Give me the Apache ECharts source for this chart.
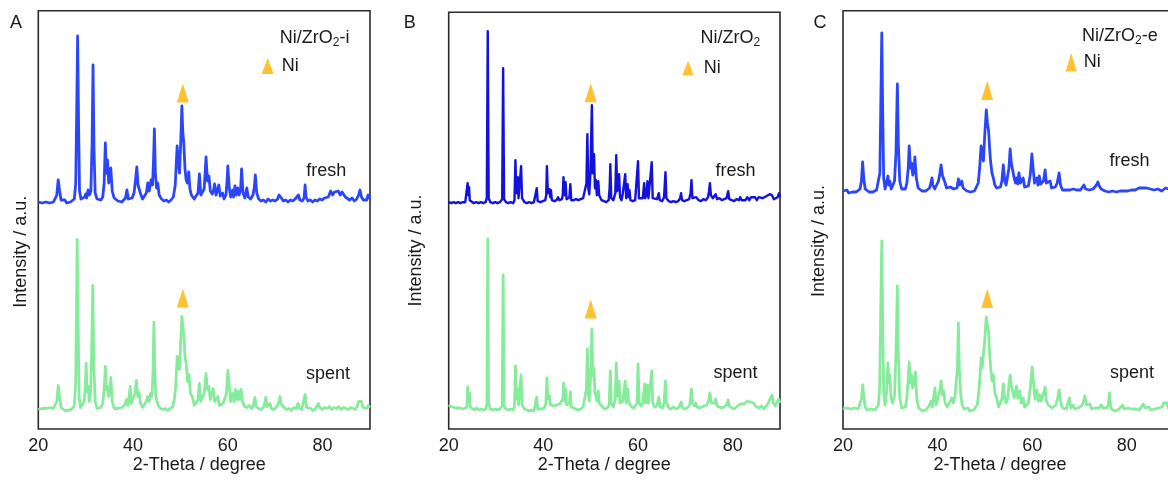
<!DOCTYPE html>
<html>
<head>
<meta charset="utf-8">
<style>
  html, body { margin: 0; padding: 0; background: #fff; overflow: hidden; }
  #main { width: 1180px; height: 481px; }
</style>
<script src="https://cdn.jsdelivr.net/npm/echarts@6/dist/echarts.min.js"></script>
</head>
<body>
<div id="main"></div>
<script>
// XRD patterns, [2-theta (degree), intensity (a.u.)]; each trace starts from its own baseline
const freshA = [[20.0,1],[20.4,3],[20.8,0],[21.2,2],[21.6,1],[22.0,3],[22.4,0],[22.8,2],[23.2,1],[23.6,3],[23.9,8],[24.2,23],[24.5,12],[24.8,3],[25.2,1],[25.6,3],[26.0,0],[26.4,2],[26.8,1],[27.2,2],[27.6,4],[27.9,20],[28.1,90],[28.3,167],[28.5,80],[28.7,12],[29.0,4],[29.4,2],[29.8,6],[30.0,9],[30.2,5],[30.5,13],[30.8,8],[31.1,12],[31.35,60],[31.55,138],[31.75,55],[32.0,10],[32.4,4],[32.8,2],[33.2,3],[33.6,6],[33.9,20],[34.15,60],[34.35,30],[34.6,43],[34.85,20],[35.05,24],[35.3,35],[35.6,12],[36.0,5],[36.4,3],[36.8,2],[37.2,4],[37.6,1],[38.0,3],[38.4,5],[38.7,13],[39.0,4],[39.4,2],[39.8,5],[40.2,10],[40.5,22],[40.8,36],[41.05,18],[41.3,20],[41.6,9],[42.0,4],[42.4,6],[42.8,10],[43.1,20],[43.4,12],[43.8,23],[44.1,18],[44.3,40],[44.5,74],[44.7,30],[44.95,15],[45.2,20],[45.5,8],[46.0,4],[46.5,2],[47.0,3],[47.5,1],[48.0,3],[48.5,6],[48.9,18],[49.3,57],[49.55,40],[49.8,30],[50.05,60],[50.3,97],[50.5,70],[50.7,60],[50.95,35],[51.2,23],[51.45,20],[51.75,31],[52.0,14],[52.3,8],[52.5,10],[52.9,4],[53.3,3],[53.7,10],[54.0,29],[54.3,8],[54.7,6],[55.0,14],[55.2,30],[55.4,46],[55.7,22],[56.0,27],[56.3,12],[56.7,9],[57.0,13],[57.2,19],[57.5,8],[57.8,10],[58.1,18],[58.4,7],[58.7,6],[58.9,10],[59.2,4],[59.6,8],[59.8,20],[60.0,37],[60.3,15],[60.6,6],[61.0,13],[61.2,6],[61.5,17],[61.8,8],[62.1,15],[62.4,8],[62.7,14],[62.9,34],[63.2,10],[63.6,5],[64.0,15],[64.3,6],[64.8,4],[65.3,8],[65.6,16],[65.8,28],[66.1,10],[66.5,4],[67.0,2],[67.5,3],[68.0,1],[68.5,4],[69.0,2],[69.5,3],[70.0,2],[70.5,4],[70.8,8],[71.0,10],[71.3,5],[71.7,2],[72.2,3],[72.7,1],[73.2,3],[73.7,2],[74.2,4],[74.6,5],[74.9,8],[75.2,3],[75.7,2],[76.1,5],[76.3,18],[76.5,6],[76.9,2],[77.4,3],[77.9,1],[78.4,3],[78.9,2],[79.4,4],[79.9,3],[80.4,5],[80.8,7],[81.2,6],[81.7,12],[82.1,8],[82.5,11],[82.9,9],[83.3,12],[83.7,8],[84.1,11],[84.4,12],[84.8,6],[85.2,4],[85.7,3],[86.2,5],[86.7,2],[87.2,4],[87.6,8],[87.9,13],[88.2,6],[88.6,3],[89.0,4],[89.3,3],[89.6,8],[90.0,4]];

const spentA = [[20.0,2],[20.4,0],[20.8,3],[21.2,1],[21.6,3],[22.0,1],[22.4,4],[22.8,2],[23.2,3],[23.6,4],[23.9,10],[24.2,26],[24.5,14],[24.8,4],[25.2,2],[25.6,1],[26.0,3],[26.4,1],[26.8,2],[27.2,3],[27.6,6],[27.9,30],[28.05,100],[28.2,172],[28.4,90],[28.6,15],[28.9,4],[29.3,3],[29.7,10],[29.9,25],[30.1,48],[30.3,20],[30.5,25],[30.75,10],[31.05,20],[31.3,70],[31.5,126],[31.7,50],[32.0,10],[32.4,3],[32.8,2],[33.2,4],[33.6,8],[33.9,22],[34.15,45],[34.35,22],[34.6,25],[34.85,15],[35.05,20],[35.3,34],[35.6,10],[36.0,3],[36.4,1],[36.8,3],[37.2,2],[37.6,4],[38.0,5],[38.3,7],[38.6,12],[38.9,6],[39.2,8],[39.4,25],[39.6,8],[40.0,6],[40.4,18],[40.7,31],[41.0,15],[41.3,18],[41.6,8],[42.0,4],[42.4,5],[42.8,10],[43.1,15],[43.4,10],[43.7,18],[44.0,15],[44.2,40],[44.4,89],[44.6,40],[44.8,15],[45.0,15],[45.3,6],[45.8,3],[46.3,2],[46.8,3],[47.3,1],[47.8,3],[48.3,4],[48.7,12],[49.0,25],[49.3,55],[49.55,45],[49.8,42],[50.05,70],[50.3,95],[50.5,85],[50.7,78],[50.95,55],[51.2,48],[51.5,30],[51.8,37],[52.1,18],[52.5,15],[52.9,6],[53.3,4],[53.7,12],[54.0,28],[54.3,10],[54.7,8],[55.0,18],[55.2,28],[55.4,38],[55.7,22],[56.0,25],[56.3,12],[56.6,10],[56.9,23],[57.2,10],[57.5,8],[57.9,15],[58.2,6],[58.6,5],[59.0,8],[59.4,6],[59.7,18],[60.0,41],[60.3,25],[60.6,10],[61.0,18],[61.3,10],[61.6,22],[61.9,12],[62.2,20],[62.5,12],[62.8,22],[63.1,10],[63.5,5],[64.0,4],[64.5,6],[65.0,3],[65.4,6],[65.7,14],[66.0,5],[66.5,3],[67.0,2],[67.5,4],[67.8,8],[68.0,14],[68.3,5],[68.6,4],[68.9,8],[69.2,3],[69.7,2],[70.2,4],[70.7,8],[71.0,15],[71.3,7],[71.6,9],[71.9,4],[72.4,2],[72.9,3],[73.4,1],[73.9,4],[74.4,3],[74.8,8],[75.1,3],[75.6,2],[76.0,4],[76.3,17],[76.6,4],[77.0,2],[77.5,3],[78.0,1],[78.5,3],[78.9,5],[79.1,8],[79.4,4],[79.9,2],[80.4,4],[80.9,3],[81.4,5],[81.9,2],[82.4,4],[82.9,3],[83.4,5],[83.9,2],[84.4,4],[84.9,3],[85.4,2],[85.9,4],[86.4,3],[86.9,2],[87.3,5],[87.6,10],[87.9,12],[88.2,10],[88.5,4],[88.9,2],[89.3,3],[89.6,6],[90.0,4]];

const freshB = [[20.0,1],[20.5,0],[21.0,1],[21.5,0],[22.0,1],[22.5,0],[23.0,1],[23.5,1],[23.85,3],[24.0,20],[24.15,8],[24.3,16],[24.45,3],[24.8,1],[25.3,0],[25.8,1],[26.3,0],[26.8,1],[27.3,0],[27.8,1],[28.05,5],[28.25,172],[28.45,5],[28.8,1],[29.3,0],[29.8,1],[30.3,0],[30.8,1],[31.3,4],[31.5,135],[31.7,4],[32.1,1],[32.6,0],[33.1,1],[33.6,0],[33.9,3],[34.1,43],[34.3,10],[34.45,8],[34.6,26],[34.75,5],[35.0,3],[35.3,37],[35.5,5],[35.8,6],[36.0,1],[36.5,0],[37.0,1],[37.5,0],[38.0,1],[38.4,2],[38.6,15],[38.8,2],[39.1,3],[39.4,1],[39.9,2],[40.4,3],[40.6,8],[40.75,37],[40.95,10],[41.3,14],[41.45,6],[41.6,13],[41.8,3],[42.3,2],[42.8,3],[43.1,6],[43.4,3],[43.9,4],[44.1,8],[44.25,26],[44.45,8],[44.7,21],[44.9,4],[45.2,3],[45.5,6],[45.7,19],[45.9,3],[46.4,3],[46.9,4],[47.4,3],[47.9,4],[48.4,5],[48.8,6],[49.1,20],[49.3,69],[49.5,15],[49.7,9],[49.95,30],[50.25,98],[50.45,30],[50.7,49],[50.9,15],[51.1,23],[51.3,8],[51.6,22],[51.8,8],[52.0,9],[52.3,3],[52.8,2],[53.3,1],[53.8,3],[54.0,15],[54.15,39],[54.35,5],[54.8,3],[55.2,10],[55.4,48],[55.6,12],[55.8,15],[56.0,29],[56.2,6],[56.5,3],[56.8,10],[57.0,8],[57.3,29],[57.5,5],[57.8,19],[58.0,6],[58.2,13],[58.4,3],[58.9,2],[59.4,3],[59.8,5],[60.0,42],[60.2,5],[60.6,3],[61.0,5],[61.3,20],[61.5,5],[61.8,8],[62.0,22],[62.2,5],[62.5,4],[62.9,41],[63.1,5],[63.5,3],[64.0,4],[64.4,10],[64.6,3],[65.1,2],[65.5,6],[65.8,31],[66.0,5],[66.5,2],[67.0,1],[67.5,2],[68.0,1],[68.5,2],[68.9,5],[69.1,10],[69.3,3],[69.8,2],[70.3,3],[70.8,4],[71.1,10],[71.3,23],[71.5,5],[71.9,4],[72.3,6],[72.8,3],[73.3,2],[73.8,4],[74.3,3],[74.8,6],[75.0,12],[75.2,20],[75.4,8],[75.8,5],[76.1,6],[76.4,9],[76.7,4],[77.2,5],[77.7,3],[78.2,4],[78.7,5],[79.05,12],[79.3,4],[79.8,3],[80.3,2],[80.8,4],[81.3,3],[81.6,6],[81.9,3],[82.3,5],[82.7,3],[83.1,6],[83.5,3],[83.9,6],[84.3,4],[84.7,6],[85.1,3],[85.5,6],[85.9,4],[86.3,5],[86.7,3],[87.1,7],[87.5,6],[87.8,9],[88.0,11],[88.3,8],[88.7,4],[89.1,5],[89.5,6],[89.8,10],[90.0,6]];

const spentB = [[20.0,6],[20.3,5],[20.7,4],[21.1,4],[21.5,3],[21.9,2],[22.3,3],[22.7,1],[23.1,2],[23.5,1],[23.85,4],[24.0,24],[24.15,10],[24.4,18],[24.55,4],[24.9,2],[25.4,1],[25.9,3],[26.4,1],[26.9,2],[27.4,1],[27.9,2],[28.08,8],[28.25,172],[28.42,8],[28.8,2],[29.3,1],[29.8,2],[30.3,1],[30.8,2],[31.3,5],[31.5,136],[31.7,5],[32.1,2],[32.6,1],[33.1,2],[33.6,1],[33.9,4],[34.1,45],[34.3,12],[34.45,10],[34.6,22],[34.75,6],[35.0,4],[35.3,36],[35.5,6],[35.8,7],[36.0,2],[36.5,1],[37.0,0],[37.5,1],[38.0,0],[38.4,2],[38.6,14],[38.8,2],[39.2,1],[39.7,2],[40.2,3],[40.55,8],[40.75,33],[40.95,12],[41.3,15],[41.5,6],[41.8,4],[42.3,5],[42.8,6],[43.1,8],[43.5,7],[43.9,8],[44.1,12],[44.3,28],[44.5,10],[44.7,22],[44.9,6],[45.2,5],[45.5,8],[45.7,19],[45.9,4],[46.4,3],[46.9,2],[47.4,1],[47.9,2],[48.4,4],[48.8,6],[49.1,22],[49.3,62],[49.5,18],[49.7,10],[49.95,30],[50.25,82],[50.45,35],[50.7,43],[50.9,18],[51.1,20],[51.35,10],[51.6,20],[51.8,8],[52.1,6],[52.5,4],[53.0,2],[53.5,3],[53.9,6],[54.15,40],[54.35,8],[54.8,4],[55.2,12],[55.4,48],[55.6,15],[55.8,18],[56.0,30],[56.2,8],[56.5,6],[56.8,10],[57.05,10],[57.3,30],[57.5,8],[57.8,22],[58.0,10],[58.3,12],[58.6,4],[59.1,3],[59.5,4],[59.8,8],[60.0,47],[60.25,8],[60.6,5],[61.0,8],[61.4,27],[61.6,8],[61.8,10],[62.0,26],[62.2,8],[62.5,6],[62.9,40],[63.1,8],[63.5,4],[64.0,5],[64.4,14],[64.7,4],[65.2,3],[65.5,8],[65.8,30],[66.05,8],[66.5,3],[67.0,2],[67.5,4],[68.0,2],[68.5,3],[68.9,6],[69.1,9],[69.4,3],[69.9,2],[70.4,3],[70.9,6],[71.1,12],[71.3,22],[71.5,8],[71.9,5],[72.2,8],[72.5,4],[73.0,3],[73.5,4],[74.0,5],[74.5,6],[74.9,10],[75.2,18],[75.5,8],[75.9,6],[76.2,8],[76.4,12],[76.7,5],[77.2,4],[77.7,3],[78.2,4],[78.7,6],[79.05,11],[79.3,5],[79.8,3],[80.3,2],[80.8,4],[81.2,5],[81.6,7],[82.0,5],[82.4,7],[82.8,8],[83.1,10],[83.4,12],[83.7,9],[84.0,10],[84.4,8],[84.8,5],[85.2,4],[85.6,3],[86.1,5],[86.5,2],[86.9,4],[87.3,6],[87.7,10],[88.0,13],[88.3,16],[88.6,8],[89.0,5],[89.4,7],[89.7,12],[90.0,8]];

const freshC = [[20.0,2],[20.4,1],[20.8,3],[21.2,0],[21.6,2],[22.0,1],[22.4,3],[22.8,1],[23.2,2],[23.6,4],[23.9,12],[24.15,31],[24.4,14],[24.7,4],[25.1,2],[25.5,1],[25.9,3],[26.3,1],[26.7,2],[27.1,3],[27.5,5],[27.8,20],[28.0,90],[28.2,160],[28.4,80],[28.6,15],[28.9,4],[29.2,6],[29.5,17],[29.7,8],[29.9,12],[30.2,4],[30.6,6],[30.9,12],[31.2,40],[31.5,109],[31.7,50],[32.0,12],[32.4,4],[32.8,2],[33.2,4],[33.5,10],[33.8,25],[34.0,47],[34.25,25],[34.5,30],[34.75,18],[35.0,22],[35.2,36],[35.5,15],[35.9,5],[36.3,3],[36.7,2],[37.1,3],[37.5,2],[37.9,4],[38.3,5],[38.6,10],[38.8,15],[39.0,8],[39.4,4],[39.8,6],[40.2,12],[40.5,20],[40.75,28],[41.0,18],[41.3,20],[41.6,10],[41.9,5],[42.3,4],[42.7,6],[43.1,8],[43.4,4],[43.8,6],[44.1,5],[44.4,14],[44.7,8],[45.1,12],[45.4,5],[45.8,3],[46.2,2],[46.6,3],[47.0,1],[47.4,3],[47.8,2],[48.2,4],[48.6,10],[48.9,25],[49.2,47],[49.45,36],[49.7,32],[50.0,60],[50.3,83],[50.55,70],[50.8,62],[51.0,45],[51.2,32],[51.5,20],[51.8,15],[52.1,8],[52.5,5],[52.9,3],[53.3,6],[53.6,12],[53.9,28],[54.2,12],[54.5,8],[54.8,10],[55.1,25],[55.35,44],[55.6,30],[55.9,28],[56.2,15],[56.5,10],[56.7,15],[56.95,9],[57.2,20],[57.5,10],[57.8,8],[58.1,15],[58.4,6],[58.8,5],[59.2,7],[59.6,18],[59.95,39],[60.2,25],[60.5,10],[60.8,8],[61.0,15],[61.25,8],[61.5,17],[61.8,9],[62.1,10],[62.4,12],[62.75,23],[63.0,10],[63.4,8],[63.8,12],[64.1,5],[64.5,4],[64.9,6],[65.3,10],[65.7,20],[66.0,8],[66.4,3],[66.8,2],[67.2,3],[67.6,1],[68.0,3],[68.4,2],[68.7,4],[69.0,2],[69.4,3],[69.8,1],[70.2,3],[70.6,4],[70.95,8],[71.3,4],[71.7,2],[72.1,3],[72.5,2],[72.9,4],[73.3,5],[73.6,8],[73.9,11],[74.2,7],[74.6,4],[75.0,3],[75.4,2],[75.8,3],[76.2,1],[76.6,3],[77.0,2],[77.4,3],[77.8,1],[78.2,3],[78.6,2],[79.0,4],[79.4,2],[79.8,3],[80.2,2],[80.6,4],[81.0,3],[81.4,5],[81.8,3],[82.2,4],[82.6,5],[83.0,3],[83.4,5],[83.8,4],[84.2,5],[84.6,3],[85.0,4],[85.4,2],[85.8,3],[86.2,2],[86.6,4],[87.0,3],[87.4,2],[87.8,4],[88.2,5],[88.5,7],[88.8,4],[89.2,3],[89.6,4],[90.0,3]];

const spentC = [[20.0,4],[20.4,2],[20.8,5],[21.2,3],[21.6,4],[22.0,2],[22.4,5],[22.8,3],[23.2,4],[23.6,6],[23.9,14],[24.15,28],[24.4,16],[24.7,6],[25.1,3],[25.5,2],[25.9,4],[26.3,2],[26.7,3],[27.1,5],[27.5,8],[27.75,25],[28.0,110],[28.2,172],[28.4,90],[28.6,20],[28.9,8],[29.2,20],[29.5,50],[29.7,30],[29.9,38],[30.15,15],[30.5,10],[30.9,18],[31.2,60],[31.5,127],[31.7,60],[32.0,15],[32.4,5],[32.8,3],[33.2,6],[33.5,15],[33.8,35],[34.0,51],[34.25,30],[34.5,38],[34.75,25],[35.0,30],[35.3,41],[35.6,15],[36.0,5],[36.4,3],[36.8,2],[37.2,4],[37.6,3],[38.0,5],[38.3,8],[38.6,12],[38.9,6],[39.2,8],[39.45,25],[39.7,8],[40.1,10],[40.45,22],[40.75,32],[41.0,18],[41.3,22],[41.6,10],[42.0,6],[42.4,8],[42.7,12],[43.0,15],[43.35,10],[43.7,18],[44.0,20],[44.2,45],[44.4,90],[44.6,45],[44.9,18],[45.2,8],[45.6,4],[46.0,3],[46.4,5],[46.8,2],[47.2,4],[47.6,3],[48.0,5],[48.4,8],[48.8,25],[49.2,55],[49.45,45],[49.7,45],[50.0,75],[50.3,96],[50.55,88],[50.8,80],[51.0,60],[51.2,48],[51.5,32],[51.8,38],[52.1,20],[52.5,15],[52.9,6],[53.3,8],[53.6,14],[53.9,29],[54.2,14],[54.5,10],[54.8,14],[55.1,28],[55.35,38],[55.6,28],[55.9,28],[56.2,15],[56.5,14],[56.7,27],[56.95,15],[57.4,22],[57.7,10],[58.1,15],[58.4,6],[58.8,8],[59.2,10],[59.6,25],[60.0,46],[60.3,30],[60.6,14],[61.0,23],[61.3,12],[61.6,18],[61.9,12],[62.2,16],[62.5,14],[62.75,26],[63.0,12],[63.4,8],[63.8,6],[64.2,5],[64.6,6],[65.0,8],[65.4,15],[65.7,23],[66.0,12],[66.4,5],[66.8,3],[67.2,4],[67.6,6],[67.9,15],[68.2,5],[68.5,6],[68.7,8],[69.0,4],[69.4,3],[69.8,5],[70.2,4],[70.6,8],[70.9,12],[71.15,17],[71.5,8],[71.9,6],[72.2,9],[72.6,4],[73.0,3],[73.4,5],[73.8,4],[74.2,5],[74.6,8],[75.0,5],[75.4,3],[75.8,5],[76.1,8],[76.35,20],[76.6,6],[77.0,3],[77.4,4],[77.8,2],[78.2,4],[78.6,5],[79.1,8],[79.5,4],[79.9,3],[80.3,5],[80.7,3],[81.1,4],[81.5,6],[81.9,4],[82.3,5],[82.7,3],[83.1,6],[83.5,9],[83.9,5],[84.3,4],[84.7,6],[85.1,3],[85.5,5],[85.9,4],[86.3,3],[86.7,5],[87.1,4],[87.5,6],[87.8,10],[88.2,12],[88.5,10],[88.9,4],[89.3,5],[89.7,4],[90.0,5]];

// Ni (111) reflection marker: 2-theta and height above each baseline
const niTheta = [50.5, 50.0, 50.5];
const niMarkFresh = [110, 110.5, 102.5];
const niMarkSpent = [113.5, 102, 114.5];

// Axis settings
const thetaMin = 20;
const thetaMax = 90;
const thetaStep = 20;

// Panel labels and sample names (subscript written as rich text)
const panelLetters = ['A', 'B', 'C'];
const sampleNames = [
  '{n|Ni/ZrO}{s|2}{n|-i}',
  '{n|Ni/ZrO}{s|2}',
  '{n|Ni/ZrO}{s|2}{n|-e}'
];

const FONT = "'Liberation Sans', Arial, Helvetica, sans-serif";
const TEXT = '#1a1a1a';
const FRESH_COLORS = ['#2b45fb', '#1212dc', '#2b45fb'];
const FRESH_WIDTHS = [2.8, 2.4, 2.8];
const SPENT_COLOR = '#86ec9c';
const SPENT_WIDTH = 2.8;
const NI_COLOR = '#ffb300';

// Layout of the three panels (pixels)
const panels = [
  { left: 38.3, top: 10.7, width: 331.7, height: 418.3, freshBase: 226, spentBase: 17.5 },
  { left: 448.7, top: 12.3, width: 331.3, height: 416.7, freshBase: 225.8, spentBase: 18 },
  { left: 843, top: 10.7, width: 331, height: 418.3, freshBase: 236, spentBase: 16 }
];

const freshData = [freshA, freshB, freshC];
const spentData = [spentA, spentB, spentC];

const shift = (arr, base) => arr.map(p => [p[0], p[1] + base]);

const grids = [], xAxes = [], yAxes = [], series = [], legends = [];
panels.forEach((p, i) => {
  grids.push({
    left: p.left, top: p.top, width: p.width, height: p.height,
    show: true, borderColor: '#2a2a2a', borderWidth: 1.6, backgroundColor: 'transparent'
  });
  xAxes.push({
    type: 'value', gridIndex: i, min: thetaMin, max: thetaMax, interval: thetaStep,
    axisLine: { show: false }, axisTick: { show: false }, splitLine: { show: false },
    axisLabel: {
      fontSize: 18, fontFamily: FONT, color: TEXT, margin: 8,
      formatter: v => (v % thetaStep === 0 ? String(v) : '')
    }
  });
  yAxes.push({
    type: 'value', gridIndex: i, min: 0, max: p.height, show: false,
    splitLine: { show: false }
  });
  series.push({
    type: 'line', name: 'spent', xAxisIndex: i, yAxisIndex: i,
    data: shift(spentData[i], p.spentBase), showSymbol: false, symbol: 'none',
    lineStyle: { color: SPENT_COLOR, width: SPENT_WIDTH, join: 'round' }, silent: true
  });
  series.push({
    type: 'line', name: 'fresh', xAxisIndex: i, yAxisIndex: i,
    data: shift(freshData[i], p.freshBase), showSymbol: false, symbol: 'none',
    lineStyle: { color: FRESH_COLORS[i], width: FRESH_WIDTHS[i], join: 'round' }, silent: true
  });
  series.push({
    type: 'scatter', name: 'Ni', xAxisIndex: i, yAxisIndex: i,
    symbol: 'triangle', symbolSize: [12, 19],
    itemStyle: { color: NI_COLOR },
    data: [
      [niTheta[i], p.freshBase + niMarkFresh[i]],
      [niTheta[i], p.spentBase + niMarkSpent[i]]
    ],
    silent: true
  });
});

// Legend glyph + label per panel
const legendPos = [
  { left: 261.7, top: 57, w: 12, h: 16, pad: 3 },
  { left: 682.3, top: 59, w: 11.5, h: 14.5, pad: 5 },
  { left: 1065.7, top: 53, w: 11, h: 18.5, pad: 2 }
];
legendPos.forEach(l => {
  legends.push({
    left: l.left, top: l.top, padding: 0, selectedMode: false,
    itemWidth: l.w, itemHeight: l.h,
    data: [{ name: 'Ni', icon: 'triangle', itemStyle: { color: NI_COLOR } }],
    textStyle: { fontSize: 18, fontFamily: FONT, color: TEXT, padding: [0, 0, 0, l.pad] }
  });
});

const plainText = (txt, x, y, align, extra) => Object.assign({
  type: 'text', x: x, y: y, silent: true,
  style: { text: txt, fontSize: 18, fontFamily: FONT, fill: TEXT, align: align || 'left', verticalAlign: 'middle' }
}, extra || {});

const richName = (txt, x, y) => ({
  type: 'text', x: x, y: y, silent: true,
  style: {
    text: txt, fontFamily: FONT, fill: TEXT, align: 'left', verticalAlign: 'top',
    rich: {
      n: { fontSize: 18, fontFamily: FONT, color: TEXT, lineHeight: 20, verticalAlign: 'top' },
      s: { fontSize: 12, fontFamily: FONT, color: TEXT, lineHeight: 12, padding: [11, 0, 0, 0], verticalAlign: 'bottom' }
    }
  }
});

const graphics = [
  plainText(panelLetters[0], 10, 23.3),
  plainText(panelLetters[1], 403.8, 23.3),
  plainText(panelLetters[2], 813.5, 23.3),
  richName(sampleNames[0], 279.8, 29),
  richName(sampleNames[1], 700.4, 29),
  richName(sampleNames[2], 1082, 27),
  plainText('fresh', 306.3, 170.7),
  plainText('fresh', 715.6, 170.7),
  plainText('fresh', 1109.6, 161),
  plainText('spent', 306, 374),
  plainText('spent', 713.4, 373.3),
  plainText('spent', 1110, 373.3),
  plainText('2-Theta / degree', 199.3, 465, 'center'),
  plainText('2-Theta / degree', 604.2, 465, 'center'),
  plainText('2-Theta / degree', 1000, 465, 'center'),
  plainText('Intensity / a.u.', 21, 251.7, 'center', { rotation: Math.PI / 2 }),
  plainText('Intensity / a.u.', 416.5, 250.5, 'center', { rotation: Math.PI / 2 }),
  plainText('Intensity / a.u.', 819.5, 241, 'center', { rotation: Math.PI / 2 })
];

const chart = echarts.init(document.getElementById('main'), null, { renderer: 'canvas', width: 1180, height: 481 });
chart.setOption({
  animation: false,
  backgroundColor: '#ffffff',
  grid: grids,
  xAxis: xAxes,
  yAxis: yAxes,
  legend: legends,
  series: series,
  graphic: graphics
});
</script>
</body>
</html>
